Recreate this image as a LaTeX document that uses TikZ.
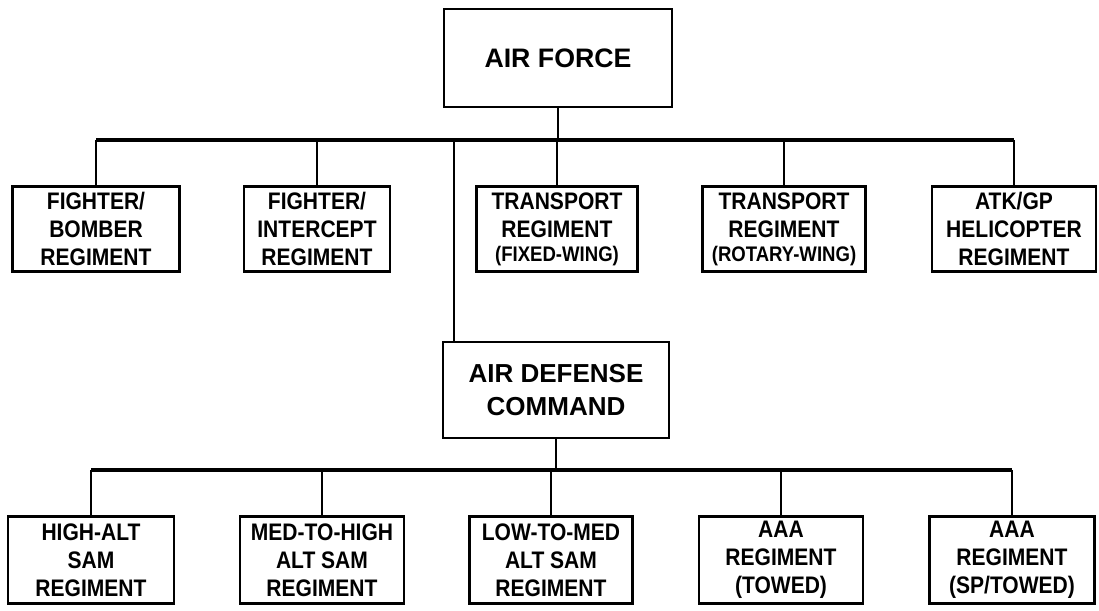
\documentclass[tikz,border=0pt]{standalone}
\usepackage{fontspec}
\setmainfont{Liberation Sans}
\newfontfamily\narrowfont{Liberation Sans}[FakeStretch=0.88]

\tikzset{
	unit/.style={draw, line width=2pt, inner sep=0pt, align=center, minimum height=2.14cm, font=\narrowfont\bfseries\fontsize{17}{20}\selectfont},
	head/.style={unit, font=\bfseries\fontsize{19}{23}\selectfont},
	link/.style={line width=1.5pt},
	bus/.style={line width=2.4pt}
}
\newcommand{\subline}[1]{{\fontsize{15}{16}\selectfont\bfseries #1}}

\begin{document}
\begin{tikzpicture}[x=0.025cm, y=-0.025cm]
	\useasboundingbox (0,0) rectangle (1099,611);
	
	\coordinate (tbus) at (0,140);
	\coordinate (bbus) at (0,470);
	
	\node[head, minimum width=5.7cm, minimum height=2.45cm] (af) at (558,58) {AIR FORCE};
	
	\node[unit, minimum width=4.18cm] (fb) at (96,229) {FIGHTER/\\BOMBER\\REGIMENT};
	\node[unit, minimum width=3.65cm] (fi) at (317,229) {FIGHTER/\\INTERCEPT\\REGIMENT};
	\node[unit, minimum width=4.02cm] (tf) at (557,229) {TRANSPORT\\REGIMENT\\[-3pt]\subline{(FIXED-WING)}};
	\node[unit, minimum width=4.08cm] (tr) at (784,229) {TRANSPORT\\REGIMENT\\[-3pt]\subline{(ROTARY-WING)}};
	\node[unit, minimum width=4.10cm] (hel) at (1014,229) {ATK/GP\\HELICOPTER\\REGIMENT};
	
	\node[head, minimum width=5.65cm, minimum height=2.4cm, font=\bfseries\fontsize{18.5}{23}\selectfont] (adc) at (556,390) {AIR DEFENSE\\COMMAND};
	
	\node[unit, minimum width=4.15cm, minimum height=2.18cm] (ha) at (91,560) {HIGH-ALT\\SAM\\REGIMENT};
	\node[unit, minimum width=4.10cm, minimum height=2.18cm] (mh) at (322,560) {MED-TO-HIGH\\ALT SAM\\REGIMENT};
	\node[unit, minimum width=4.08cm, minimum height=2.18cm] (lm) at (551,560) {LOW-TO-MED\\ALT SAM\\REGIMENT};
	\node[unit, minimum width=4.10cm, minimum height=2.18cm] (aaat) at (781,560) {AAA\\REGIMENT\\(TOWED)};
	\node[unit, minimum width=4.12cm, minimum height=2.18cm] (aaas) at (1012,560) {AAA\\REGIMENT\\(SP/TOWED)};
	
	\draw[link] (af.south) -- (af.south |- tbus);
	\draw[bus] (fb.north |- tbus) -- (hel.north |- tbus);
	\foreach \n in {fb,fi,tf,tr,hel}
		\draw[link] (\n.north) -- (\n.north |- tbus);
	\draw[link] ([xshift=0.3cm]adc.north west) -- ([xshift=0.3cm]adc.north west |- tbus);
	
	\draw[link] (adc.south) -- (adc.south |- bbus);
	\draw[bus] (ha.north |- bbus) -- (aaas.north |- bbus);
	\foreach \n in {ha,mh,lm,aaat,aaas}
		\draw[link] (\n.north) -- (\n.north |- bbus);
\end{tikzpicture}
\end{document}
